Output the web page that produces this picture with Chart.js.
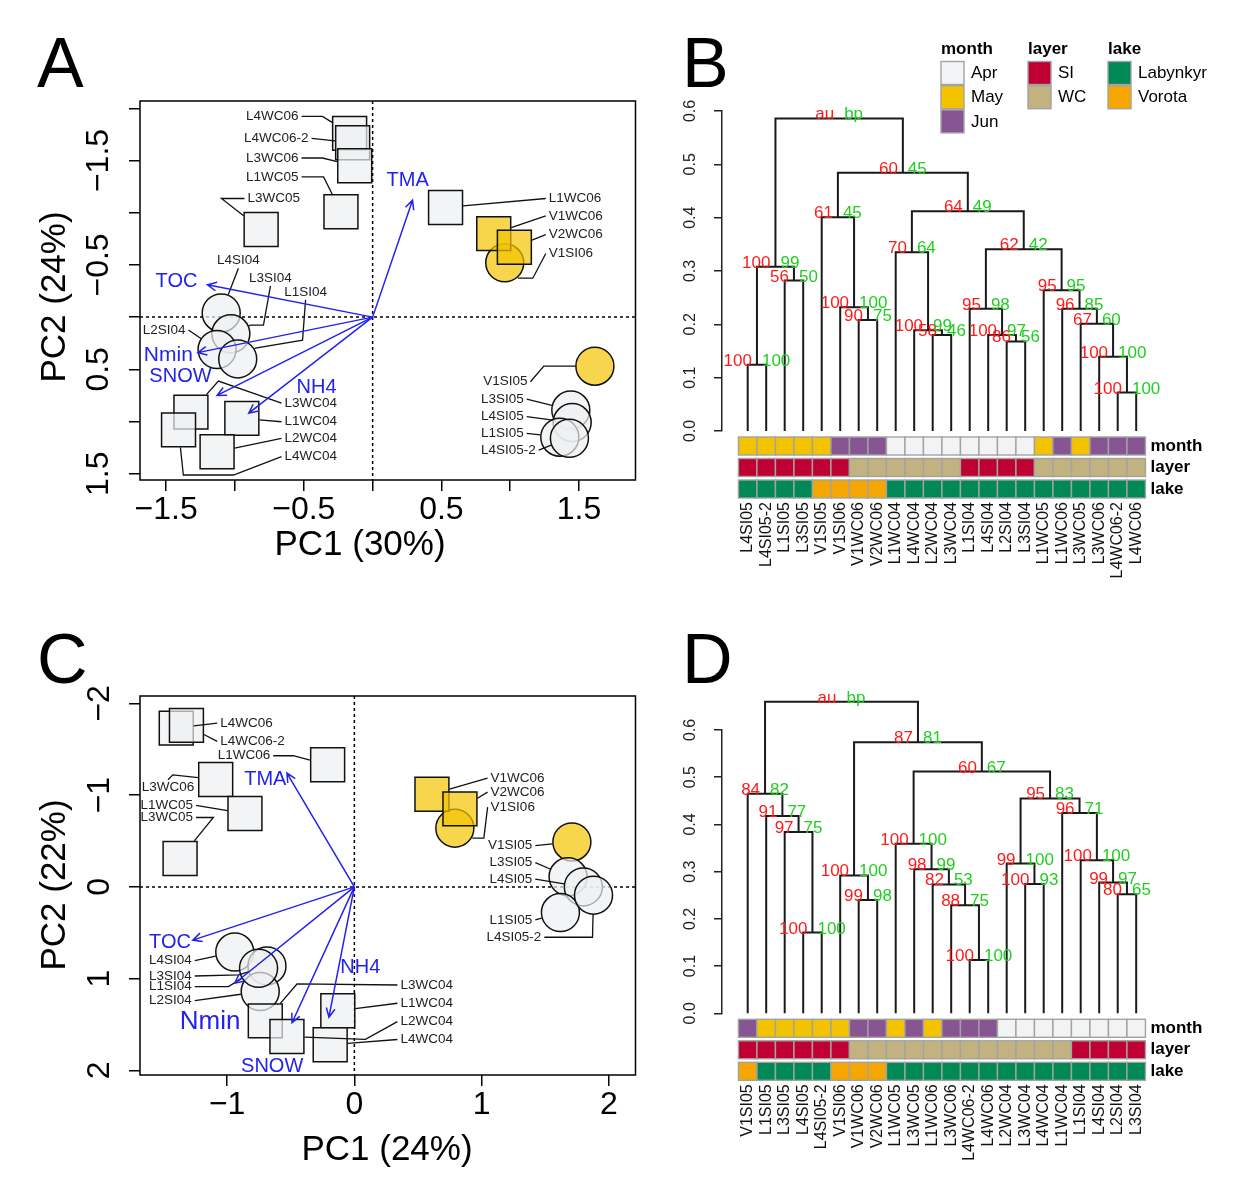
<!DOCTYPE html>
<html>
<head>
<meta charset="utf-8">
<script src="https://cdn.jsdelivr.net/npm/chart.js@4.4.1/dist/chart.umd.min.js"></script>
<style>
body { margin: 0; background: #fff; width: 1250px; height: 1200px; position: relative; overflow: hidden; font-family: "Liberation Sans", Arial, sans-serif; }
canvas { position: absolute; }
.panel { position: absolute; font-size: 70px; line-height: 1; color: #000; z-index: 5; }
</style>
</head>
<body>
<div class="panel" style="left:37px;top:28px">A</div>
<div class="panel" style="left:682px;top:28px">B</div>
<div class="panel" style="left:37px;top:624px">C</div>
<div class="panel" style="left:682px;top:624px">D</div>
<canvas id="chartA" width="661" height="600" style="left:0;top:0"></canvas>
<canvas id="chartB" width="610" height="600" style="left:640px;top:0"></canvas>
<canvas id="chartC" width="661" height="600" style="left:0;top:600px"></canvas>
<canvas id="chartD" width="610" height="600" style="left:640px;top:600px"></canvas>
<script>
const FONT = '"Liberation Sans", Arial, sans-serif';

// ---- samples of the two PCA biplots (A and C) ----
const samples = ['L4WC06', 'L4WC06-2', 'L3WC06', 'L1WC05', 'L3WC05', 'L1WC06', 'V1SI06', 'V1WC06', 'V2WC06',
  'L4SI04', 'L3SI04', 'L2SI04', 'L1SI04', 'L3WC04', 'L1WC04', 'L4WC04', 'L2WC04',
  'V1SI05', 'L3SI05', 'L4SI05', 'L1SI05', 'L4SI05-2'];

const pc1A = [-0.167, -0.145, -0.13, -0.23, -0.81, 0.53, 0.96, 0.88, 1.03, -1.10, -1.03, -1.13, -0.98, -1.32, -0.95, -1.41, -1.13, 1.615, 1.44, 1.45, 1.36, 1.43];
const pc2A = [-1.76, -1.67, -1.45, -1.01, -0.84, -1.05, -0.52, -0.80, -0.67, -0.04, 0.16, 0.31, 0.40, 0.91, 0.97, 1.08, 1.29, 0.47, 0.89, 1.01, 1.15, 1.16];

const pc1C = [-1.40, -1.32, -1.09, -0.86, -1.37, -0.21, 0.79, 0.61, 0.83, -0.94, -0.687, -0.74, -0.753, -0.70, -0.13, -0.19, -0.53, 1.71, 1.68, 1.80, 1.62, 1.88];
const pc2C = [-1.73, -1.76, -1.17, -0.80, -0.31, -1.33, -0.64, -1.01, -0.85, 0.71, 0.861, 1.141, 0.887, 1.46, 1.35, 1.72, 1.63, -0.49, -0.11, 0.00, 0.28, 0.09];

// environmental vectors
const envVars = ['TOC', 'Nmin', 'SNOW', 'NH4', 'TMA'];
const envXA = [-1.20, -1.27, -1.13, -0.90, 0.29];
const envYA = [-0.31, 0.34, 0.75, 0.92, -1.12];
const envXC = [-1.27, -0.94, -0.49, -0.20, -0.53];
const envYC = [0.58, 1.05, 1.48, 1.42, -1.24];

const xTicksA = [-1.5, -0.5, 0.5, 1.5];
const yTicksA = [-1.5, -0.5, 0.5, 1.5];
const xTicksC = [-1, 0, 1, 2];
const yTicksC = [-2, -1, 0, 1, 2];

// label placement in PC units (text anchor, alignment, bends of the leader line)
const labXA = [-0.538, -0.465, -0.538, -0.538, -0.909, 1.28, 1.28, 1.28, 1.28, -0.975, -0.742, -1.36, -0.487, -0.64, -0.64, -0.64, -0.64, 1.125, 1.098, 1.098, 1.098, 1.185];
const labYA = [-1.923, -1.713, -1.524, -1.343, -1.136, -1.136, -0.61, -0.969, -0.791, -0.545, -0.376, 0.124, -0.242, 0.823, 1.002, 1.337, 1.161, 0.619, 0.785, 0.954, 1.113, 1.273];
const alignA = ['r', 'r', 'r', 'r', 'l', 'l', 'l', 'l', 'l', 'c', 'c', 'r', 'c', 'l', 'l', 'l', 'l', 'r', 'r', 'r', 'r', 'r'];
const bendA = [[[-0.364, -1.923]], [], [[-0.364, -1.524]], [[-0.356, -1.343]], [[-1.098, -1.136]], [],
  [[1.164, -0.373], [1.055, -0.373]], [], [], [], [[-0.793, 0.077], [-0.887, 0.077]], [],
  [[-0.509, 0.22], [-0.851, 0.297]], [[-1.12, 0.612]], [], [[-1.011, 1.512], [-1.375, 1.512]], [],
  [[1.244, 0.469]], [], [], [], []];
const envLabXA = [-1.425, -1.484, -1.396, -0.407, 0.255];
const envLabYA = [-0.344, 0.364, 0.565, 0.67, -1.311];

const labXC = [-1.055, -1.055, -1.465, -1.268, -1.268, -0.661, 1.071, 1.071, 1.071, -1.278, -1.278, -1.278, -1.278, 0.362, 0.362, 0.362, 0.362, 1.399, 1.399, 1.399, 1.399, 1.47];
const labYC = [-1.785, -1.585, -1.08, -0.887, -0.756, -1.429, -0.869, -1.185, -1.033, 0.804, 0.971, 1.24, 1.087, 1.069, 1.268, 1.663, 1.468, -0.45, -0.265, -0.084, 0.36, 0.549];
const alignC = ['l', 'l', 'c', 'r', 'r', 'r', 'l', 'l', 'l', 'r', 'r', 'r', 'r', 'l', 'l', 'l', 'l', 'r', 'r', 'r', 'r', 'r'];
const bendC = [[], [], [[-1.427, -1.221]], [], [[-1.108, -0.756]], [[-0.48, -1.429]],
  [[1.018, -0.531], [0.927, -0.531]], [], [], [], [[-0.911, 0.96]], [], [[-0.99, 1.087]],
  [[-0.451, 1.058]], [], [], [[0.087, 1.661]], [], [], [], [], [[1.872, 0.549]]];
const envLabXC = [-1.449, -1.134, -0.646, 0.047, -0.70];
const envLabYC = [0.611, 1.472, 1.952, 0.883, -1.167];

// ---- dendrograms (B and D), merges in hclust notation ----
const leavesB = ['L4SI05', 'L4SI05-2', 'L1SI05', 'L3SI05', 'V1SI05', 'V1SI06', 'V1WC06', 'V2WC06', 'L1WC04', 'L4WC04', 'L2WC04',
  'L3WC04', 'L1SI04', 'L4SI04', 'L2SI04', 'L3SI04', 'L1WC05', 'L1WC06', 'L3WC05', 'L3WC06', 'L4WC06-2', 'L4WC06'];
const mergeB = [[-1, -2], [-3, -4], [1, 2], [-7, -8], [-6, 4], [-5, 5], [-11, -12], [-10, 7], [-9, 8], [-15, -16], [-14, 10],
  [-13, 11], [-21, -22], [-20, 13], [-19, 14], [-18, 15], [-17, 16], [12, 17], [9, 18], [6, 19], [3, 20]];
const heightB = [0.124, 0.282, 0.308, 0.208, 0.232, 0.401, 0.180, 0.189, 0.335, 0.168, 0.180, 0.229, 0.072, 0.139, 0.201, 0.229, 0.264, 0.341, 0.412, 0.484, 0.586];
const auB = ['100', '56', '100', '90', '100', '61', '58', '100', '70', '86', '100', '95', '100', '100', '67', '96', '95', '62', '64', '60', 'au'];
const bpB = ['100', '50', '99', '75', '100', '45', '46', '99', '64', '56', '97', '98', '100', '100', '60', '85', '95', '42', '49', '45', 'bp'];
const monthB = ['May', 'May', 'May', 'May', 'May', 'Jun', 'Jun', 'Jun', 'Apr', 'Apr', 'Apr', 'Apr', 'Apr', 'Apr', 'Apr', 'Apr', 'May', 'Jun', 'May', 'Jun', 'Jun', 'Jun'];
const layerB = ['SI', 'SI', 'SI', 'SI', 'SI', 'SI', 'WC', 'WC', 'WC', 'WC', 'WC', 'WC', 'SI', 'SI', 'SI', 'SI', 'WC', 'WC', 'WC', 'WC', 'WC', 'WC'];
const lakeB = ['Labynkyr', 'Labynkyr', 'Labynkyr', 'Labynkyr', 'Vorota', 'Vorota', 'Vorota', 'Vorota', 'Labynkyr', 'Labynkyr', 'Labynkyr',
  'Labynkyr', 'Labynkyr', 'Labynkyr', 'Labynkyr', 'Labynkyr', 'Labynkyr', 'Labynkyr', 'Labynkyr', 'Labynkyr', 'Labynkyr', 'Labynkyr'];

const leavesD = ['V1SI05', 'L1SI05', 'L3SI05', 'L4SI05', 'L4SI05-2', 'V1SI06', 'V1WC06', 'V2WC06', 'L1WC05', 'L3WC05', 'L1WC06',
  'L3WC06', 'L4WC06-2', 'L4WC06', 'L2WC04', 'L3WC04', 'L4WC04', 'L1WC04', 'L1SI04', 'L4SI04', 'L2SI04', 'L3SI04'];
const mergeD = [[-4, -5], [-3, 1], [-2, 2], [-1, 3], [-7, -8], [-6, 5], [-13, -14], [-12, 7], [-11, 8], [-10, 9], [-9, 10],
  [-16, -17], [-15, 12], [-21, -22], [-20, 14], [-19, 15], [-18, 16], [13, 17], [11, 18], [6, 19], [4, 20]];
const heightD = [0.171, 0.384, 0.418, 0.465, 0.240, 0.292, 0.113, 0.229, 0.273, 0.305, 0.359, 0.274, 0.317, 0.252, 0.277, 0.324, 0.424, 0.455, 0.512, 0.574, 0.660];
const auD = ['100', '97', '91', '84', '99', '100', '100', '88', '82', '98', '100', '100', '99', '80', '99', '100', '96', '95', '60', '87', 'au'];
const bpD = ['100', '75', '77', '82', '98', '100', '100', '75', '53', '99', '100', '93', '100', '65', '97', '100', '71', '83', '67', '81', 'bp'];
const monthD = ['Jun', 'May', 'May', 'May', 'May', 'May', 'Jun', 'Jun', 'May', 'Jun', 'May', 'Jun', 'Jun', 'Jun', 'Apr', 'Apr', 'Apr', 'Apr', 'Apr', 'Apr', 'Apr', 'Apr'];
const layerD = ['SI', 'SI', 'SI', 'SI', 'SI', 'SI', 'WC', 'WC', 'WC', 'WC', 'WC', 'WC', 'WC', 'WC', 'WC', 'WC', 'WC', 'WC', 'SI', 'SI', 'SI', 'SI'];
const lakeD = ['Vorota', 'Labynkyr', 'Labynkyr', 'Labynkyr', 'Labynkyr', 'Vorota', 'Vorota', 'Vorota', 'Labynkyr', 'Labynkyr', 'Labynkyr',
  'Labynkyr', 'Labynkyr', 'Labynkyr', 'Labynkyr', 'Labynkyr', 'Labynkyr', 'Labynkyr', 'Labynkyr', 'Labynkyr', 'Labynkyr', 'Labynkyr'];

const monthLevels = ['Apr', 'May', 'Jun'];
const monthColors = ['#f2f3f4', '#f3c300', '#875692'];
const layerLevels = ['SI', 'WC'];
const layerColors = ['#be0032', '#c2b280'];
const lakeLevels = ['Labynkyr', 'Vorota'];
const lakeColors = ['#008856', '#f6a600'];

Chart.defaults.font.family = FONT;
Chart.defaults.color = '#000';

function tickLabel(list, digits) {
  return v => list.some(t => Math.abs(t - v) < 1e-6) ? (v < -1e-9 ? '\u2212' : '') + Math.abs(v).toFixed(digits) : '';
}

function edgePoint(from, c, square) {
  const dx = from[0] - c[0], dy = from[1] - c[1];
  const d = Math.hypot(dx, dy);
  if (square) {
    const t = 17.5 / Math.max(Math.abs(dx), Math.abs(dy));
    if (t >= 0.95) return null;
    return [c[0] + dx * t, c[1] + dy * t];
  }
  if (d <= 20.5) return null;
  return [c[0] + dx * 19.5 / d, c[1] + dy * 19.5 / d];
}

const biplotLayer = {
  id: 'biplot',
  beforeDatasetsDraw(chart, args, o) {
    const {ctx, chartArea: a, scales: {x, y}} = chart;
    const x0 = x.getPixelForValue(0), y0 = y.getPixelForValue(0);
    ctx.save();
    ctx.setLineDash([3, 3]);
    ctx.lineWidth = 1.5;
    ctx.strokeStyle = '#000';
    ctx.beginPath();
    ctx.moveTo(x0, a.top); ctx.lineTo(x0, a.bottom);
    ctx.moveTo(a.left, y0); ctx.lineTo(a.right, y0);
    ctx.stroke();
    ctx.restore();
  },
  afterDatasetsDraw(chart, args, o) {
    const {ctx, scales: {x, y}} = chart;
    const px = v => x.getPixelForValue(v), py = v => y.getPixelForValue(v);
    ctx.save();
    ctx.font = '13.5px ' + FONT;
    ctx.textBaseline = 'middle';
    samples.forEach((name, i) => {
      const tx = px(o.labX[i]), ty = py(o.labY[i]);
      const mx = px(o.pc1[i]), my = py(o.pc2[i]);
      const al = o.align[i];
      const bends = o.bend[i].map(p => [px(p[0]), py(p[1])]);
      let start;
      if (al === 'l') start = [tx - 3, ty];
      else if (al === 'r') start = [tx + 3, ty];
      else {
        const tgt = bends[0] || [mx, my];
        start = [tx, ty + (tgt[1] > ty ? 8 : -8)];
      }
      const path = [start, ...bends];
      const end = edgePoint(path[path.length - 1], [mx, my], name.includes('WC'));
      if (end) path.push(end);
      ctx.strokeStyle = '#111';
      ctx.lineWidth = 1.3;
      ctx.beginPath();
      path.forEach((p, k) => k ? ctx.lineTo(p[0], p[1]) : ctx.moveTo(p[0], p[1]));
      ctx.stroke();
      ctx.fillStyle = '#222';
      ctx.textAlign = al === 'l' ? 'left' : al === 'r' ? 'right' : 'center';
      ctx.fillText(name, tx, ty);
    });

    // environmental arrows
    const x0 = px(0), y0 = py(0);
    ctx.strokeStyle = '#2222ee';
    ctx.fillStyle = '#2222ee';
    ctx.lineWidth = 1.5;
    envVars.forEach((v, i) => {
      const x1 = px(o.envX[i]), y1 = py(o.envY[i]);
      const ang = Math.atan2(y1 - y0, x1 - x0);
      ctx.beginPath();
      ctx.moveTo(x0, y0); ctx.lineTo(x1, y1);
      ctx.moveTo(x1 - 10 * Math.cos(ang - 0.45), y1 - 10 * Math.sin(ang - 0.45));
      ctx.lineTo(x1, y1);
      ctx.lineTo(x1 - 10 * Math.cos(ang + 0.45), y1 - 10 * Math.sin(ang + 0.45));
      ctx.stroke();
      ctx.font = o.envFont[i] + 'px ' + FONT;
      ctx.textAlign = 'center';
      ctx.fillText(v, px(o.envLabX[i]), py(o.envLabY[i]));
    });
    ctx.restore();
  },
  afterDraw(chart, args, o) {
    const {ctx, chartArea: a} = chart;
    ctx.save();
    ctx.strokeStyle = '#000';
    ctx.lineWidth = 1.5;
    ctx.strokeRect(a.left, a.top, a.right - a.left, a.bottom - a.top);
    ctx.fillStyle = '#000';
    ctx.font = '35px ' + FONT;
    ctx.textAlign = 'center';
    ctx.textBaseline = 'middle';
    ctx.fillText(o.xTitle, o.xTitleAt[0], o.xTitleAt[1]);
    ctx.translate(o.yTitleAt[0], o.yTitleAt[1]);
    ctx.rotate(-Math.PI / 2);
    ctx.fillText(o.yTitle, 0, 0);
    ctx.restore();
  }
};

function biplot(id, p) {
  const styles = samples.map(n => n.includes('WC') ? 'rect' : 'circle');
  const fills = samples.map(n => n[0] === 'V' ? 'rgba(243,195,0,0.7)' : 'rgba(238,240,241,0.7)');
  const axisGrid = {display: true, drawOnChartArea: false, drawTicks: true, tickLength: 11, color: '#000', lineWidth: 1.5};
  new Chart(document.getElementById(id), {
    type: 'scatter',
    data: {
      datasets: [{
        data: p.pc1.map((v, i) => ({x: v, y: p.pc2[i]})),
        pointStyle: styles,
        pointRadius: styles.map(s => s === 'rect' ? 24 : 19),
        backgroundColor: fills,
        borderColor: '#111',
        borderWidth: 1.5
      }]
    },
    options: {
      responsive: false,
      animation: false,
      events: [],
      layout: {padding: {left: 0, top: p.top, right: 5, bottom: 0}},
      scales: {
        x: {
          type: 'linear', min: p.xMin, max: p.xMax,
          afterFit: s => { s.height = p.xAxisH; },
          grid: axisGrid, border: {display: false},
          ticks: {stepSize: p.step, includeBounds: false, autoSkip: false, maxRotation: 0,
            font: {size: 32}, color: '#000', padding: 0, callback: tickLabel(p.xTicks, p.digits)}
        },
        y: {
          type: 'linear', min: p.yMin, max: p.yMax, reverse: true,
          afterFit: s => { s.width = 140; },
          grid: axisGrid, border: {display: false},
          ticks: {stepSize: p.step, includeBounds: false, autoSkip: false, minRotation: 90, maxRotation: 90,
            crossAlign: 'center', font: {size: 32}, color: '#000', padding: p.yPad, callback: tickLabel(p.yTicks, p.digits)}
        }
      },
      plugins: {
        legend: {display: false},
        tooltip: {enabled: false},
        biplot: p
      }
    },
    plugins: [biplotLayer]
  });
}

biplot('chartA', {
  pc1: pc1A, pc2: pc2A, labX: labXA, labY: labYA, align: alignA, bend: bendA,
  envX: envXA, envY: envYA, envLabX: envLabXA, envLabY: envLabYA, envFont: [20, 21, 20, 20, 20],
  xMin: -1.69, xMax: 1.91, yMin: -2.07, yMax: 1.56, step: 0.5, digits: 1,
  xTicks: xTicksA, yTicks: yTicksA, top: 101, xAxisH: 120, yPad: -2,
  xTitle: 'PC1 (30%)', xTitleAt: [360, 545], yTitle: 'PC2 (24%)', yTitleAt: [55, 297]
});

biplot('chartC', {
  pc1: pc1C, pc2: pc2C, labX: labXC, labY: labYC, align: alignC, bend: bendC,
  envX: envXC, envY: envYC, envLabX: envLabXC, envLabY: envLabYC, envFont: [20, 26, 20, 20, 20],
  xMin: -1.685, xMax: 2.21, yMin: -2.08, yMax: 2.05, step: 1, digits: 0,
  xTicks: xTicksC, yTicks: yTicksC, top: 96, xAxisH: 125, yPad: 11,
  xTitle: 'PC1 (24%)', xTitleAt: [387, 550], yTitle: 'PC2 (22%)', yTitleAt: [55, 285]
});

// ---- dendrograms ----
function mergeCenters(merges) {
  const cx = [];
  merges.forEach(([a, b]) => {
    const xa = a < 0 ? -a : cx[a - 1], xb = b < 0 ? -b : cx[b - 1];
    cx.push((xa + xb) / 2);
  });
  return cx;
}

const dendroLayer = {
  id: 'dendro',
  afterDatasetsDraw(chart, args, o) {
    const {ctx, chartArea: a, scales: {x, y}} = chart;
    const cx = mergeCenters(o.merges);
    ctx.save();
    ctx.font = '17px ' + FONT;
    ctx.textBaseline = 'alphabetic';
    cx.forEach((c, i) => {
      const X = x.getPixelForValue(c), Y = y.getPixelForValue(o.heights[i]) + 1;
      ctx.fillStyle = '#ff1a1a';
      ctx.textAlign = 'right';
      ctx.fillText(o.au[i], X - 5, Y);
      ctx.fillStyle = '#1fcf1f';
      ctx.textAlign = 'left';
      ctx.fillText(o.bp[i], X + 5, Y);
    });

    // annotation cells
    const rows = [[o.month, monthLevels, monthColors, 'month'], [o.layer, layerLevels, layerColors, 'layer'], [o.lake, lakeLevels, lakeColors, 'lake']];
    rows.forEach(([vals, levels, cols, title], r) => {
      const top = a.bottom + 6 + r * 21.5;
      vals.forEach((v, i) => {
        const x0 = x.getPixelForValue(i + 0.5), x1 = x.getPixelForValue(i + 1.5);
        ctx.fillStyle = cols[levels.indexOf(v)];
        ctx.fillRect(x0, top, x1 - x0, 18);
        ctx.strokeStyle = '#a3a3a3';
        ctx.lineWidth = 1.4;
        ctx.strokeRect(x0, top, x1 - x0, 18);
      });
      ctx.fillStyle = '#000';
      ctx.font = 'bold 17px ' + FONT;
      ctx.textAlign = 'left';
      ctx.textBaseline = 'middle';
      ctx.fillText(title, x.getPixelForValue(22.5) + 5, top + 9);
    });

    // leaf labels
    ctx.fillStyle = '#111';
    ctx.font = '16px ' + FONT;
    ctx.textAlign = 'right';
    ctx.textBaseline = 'middle';
    o.leaves.forEach((name, i) => {
      ctx.save();
      ctx.translate(x.getPixelForValue(i + 1), a.bottom + 71);
      ctx.rotate(-Math.PI / 2);
      ctx.fillText(name, 0, 0);
      ctx.restore();
    });

    if (o.legend) {
      const groups = [['month', monthLevels, monthColors, 301], ['layer', layerLevels, layerColors, 388], ['lake', lakeLevels, lakeColors, 468]];
      groups.forEach(([title, levels, cols, gx]) => {
        ctx.fillStyle = '#000';
        ctx.font = 'bold 17px ' + FONT;
        ctx.textAlign = 'left';
        ctx.fillText(title, gx, 49);
        levels.forEach((lv, k) => {
          const top = 61.5 + k * 24.2;
          ctx.fillStyle = cols[k];
          ctx.fillRect(gx, top, 23, 23);
          ctx.strokeStyle = '#a3a3a3';
          ctx.lineWidth = 1.4;
          ctx.strokeRect(gx, top, 23, 23);
          ctx.fillStyle = '#000';
          ctx.font = '17px ' + FONT;
          ctx.fillText(lv, gx + 30, top + 12);
        });
      });
    }
    ctx.restore();
  }
};

function dendrogram(id, d) {
  const cx = mergeCenters(d.merges);
  const datasets = d.merges.map(([a, b], i) => {
    const xa = a < 0 ? -a : cx[a - 1], xb = b < 0 ? -b : cx[b - 1];
    const ha = a < 0 ? 0 : d.heights[a - 1], hb = b < 0 ? 0 : d.heights[b - 1];
    return {
      data: [{x: xa, y: ha}, {x: xa, y: d.heights[i]}, {x: xb, y: d.heights[i]}, {x: xb, y: hb}],
      showLine: true, borderColor: '#1a1a1a', borderWidth: 2, pointRadius: 0, clip: false, tension: 0
    };
  });
  new Chart(document.getElementById(id), {
    type: 'scatter',
    data: {datasets},
    options: {
      responsive: false,
      animation: false,
      events: [],
      layout: {padding: {left: 0, top: d.top, right: 100, bottom: d.bottom}},
      scales: {
        x: {type: 'linear', min: -0.389, max: 22.746, display: false},
        y: {
          type: 'linear', min: 0, max: 0.6,
          afterFit: s => { s.width = 82; },
          grid: {display: true, drawOnChartArea: false, drawTicks: true, tickLength: 8, color: '#222', lineWidth: 1.5},
          border: {display: true, color: '#222', width: 1.5},
          ticks: {stepSize: 0.1, autoSkip: false, minRotation: 90, maxRotation: 90, crossAlign: 'center',
            padding: 12, font: {size: 16}, color: '#222', callback: v => v.toFixed(1)}
        }
      },
      plugins: {legend: {display: false}, tooltip: {enabled: false}, dendro: d}
    },
    plugins: [dendroLayer]
  });
}

dendrogram('chartB', {
  leaves: leavesB, merges: mergeB, heights: heightB, au: auB, bp: bpB,
  month: monthB, layer: layerB, lake: lakeB, top: 111, bottom: 169, legend: true
});

dendrogram('chartD', {
  leaves: leavesD, merges: mergeD, heights: heightD, au: auD, bp: bpD,
  month: monthD, layer: layerD, lake: lakeD, top: 130, bottom: 186.7, legend: false
});
</script>
</body>
</html>
